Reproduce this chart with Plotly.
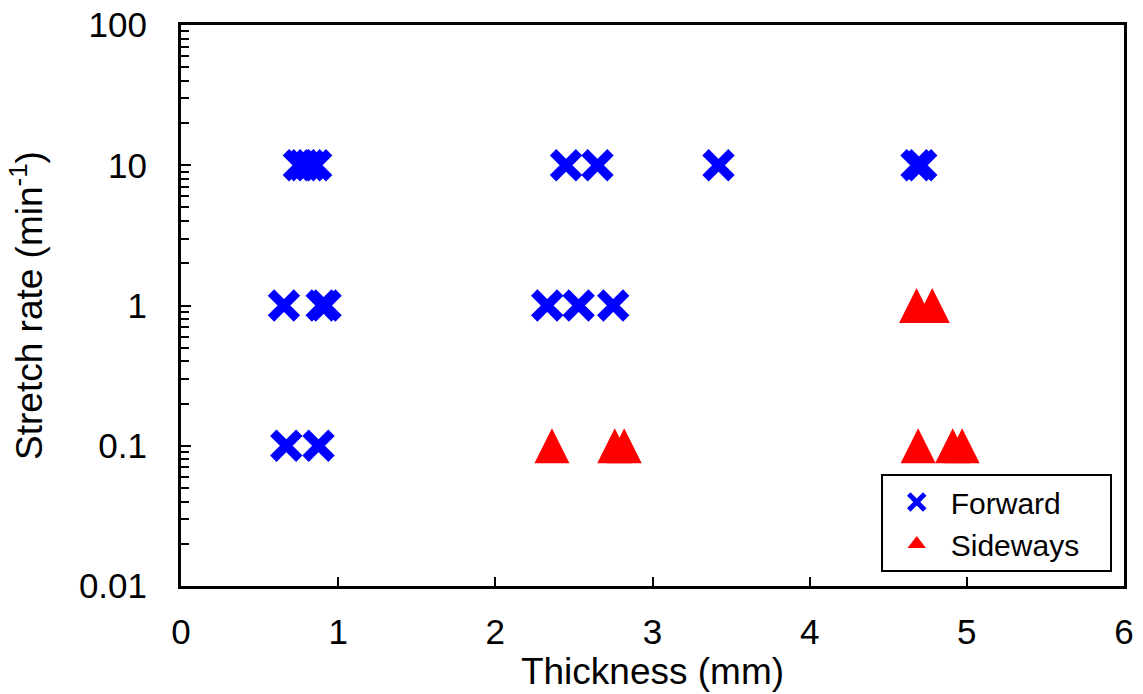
import plotly.graph_objects as go

# Thickness (mm) and stretch rate (1/min) for each specimen
forward_thickness = [0.75, 0.78, 0.82, 0.86, 2.45, 2.65, 3.42, 4.68, 4.71,
                     0.655, 0.895, 0.92, 2.33, 2.53, 2.75,
                     0.67, 0.875]
forward_rate = [10, 10, 10, 10, 10, 10, 10, 10, 10,
                1, 1, 1, 1, 1, 1,
                0.1, 0.1]

sideways_thickness = [4.68, 4.78,
                      2.36, 2.76, 2.82, 4.69, 4.91, 4.97]
sideways_rate = [1, 1,
                 0.1, 0.1, 0.1, 0.1, 0.1, 0.1]

y_tick_values = [0.01, 0.1, 1, 10, 100]
y_tick_labels = ["0.01", "0.1", "1", "10", "100"]
x_tick_values = [0, 1, 2, 3, 4, 5, 6]

BLUE = "#0000FF"
RED = "#FF0000"
FONT = "Liberation Sans, Arial, sans-serif"
TRI = 35  # triangle marker size in px
PAD = "\u00a0" * 3  # right padding inside the legend box

fig = go.Figure()

fig.add_trace(go.Scatter(
    x=forward_thickness, y=forward_rate, mode="markers", name="Forward",
    showlegend=False,
    marker=dict(symbol="x-thin-open", size=26, color=BLUE,
                line=dict(color=BLUE, width=9)),
))
# arrow-down rotated 180 deg and pushed back by half its size gives an
# upward triangle centred on the point
fig.add_trace(go.Scatter(
    x=sideways_thickness, y=sideways_rate, mode="markers", name="Sideways",
    showlegend=False,
    marker=dict(symbol="arrow-down", angle=180, standoff=TRI / 2, size=TRI,
                color=RED, line=dict(width=0)),
))

# legend entries
fig.add_trace(go.Scatter(
    x=[None], y=[None], mode="markers", name="Forward" + PAD,
    marker=dict(symbol="x-thin-open", size=16, color=BLUE,
                line=dict(color=BLUE, width=5)),
))
fig.add_trace(go.Scatter(
    x=[None], y=[None], mode="markers", name="Sideways" + PAD,
    marker=dict(symbol="triangle-up", size=16, color=RED,
                line=dict(width=0)),
))

fig.update_layout(
    width=1143, height=694,
    margin=dict(l=181, r=19, t=25, b=108, autoexpand=False),
    paper_bgcolor="white", plot_bgcolor="white",
    font=dict(family=FONT, size=35, color="black"),
    legend=dict(
        x=0.987, y=0.025, xanchor="right", yanchor="bottom",
        bordercolor="black", borderwidth=2, bgcolor="white",
        font=dict(size=30), tracegroupgap=0, itemwidth=58,
    ),
)

fig.update_xaxes(
    range=[0, 6], tickvals=x_tick_values, automargin=False,
    showline=True, linecolor="black", linewidth=3, mirror=True,
    ticks="inside", ticklen=9, tickwidth=2, tickcolor="black",
    ticklabelstandoff=13, showgrid=False, zeroline=False,
    title=dict(text="Thickness (mm)", standoff=6, font=dict(size=37)),
)
fig.update_yaxes(
    type="log", range=[-2, 2], automargin=False,
    tickvals=y_tick_values, ticktext=y_tick_labels,
    showline=True, linecolor="black", linewidth=3, mirror=True,
    ticks="inside", ticklen=10, tickwidth=2, tickcolor="black",
    minor=dict(ticks="inside", ticklen=8, tickwidth=2, tickcolor="black",
               dtick="D1", showgrid=False),
    ticklabelstandoff=24, showgrid=False, zeroline=False,
    title=dict(text="Stretch rate (min<sup>-1</sup>)", standoff=25,
               font=dict(size=37)),
)

fig.write_html("out.html")
